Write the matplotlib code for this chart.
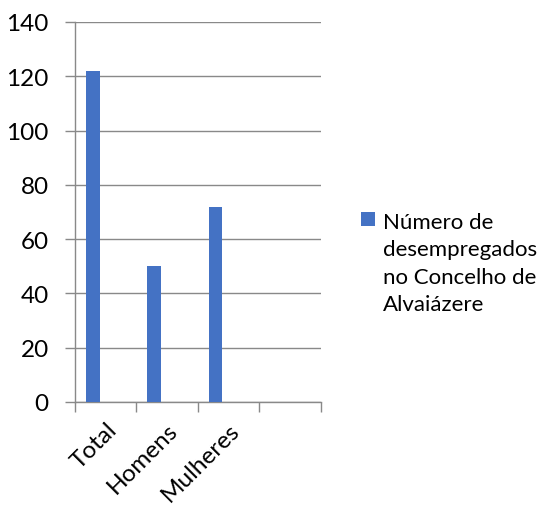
import matplotlib
matplotlib.use("Agg")
import matplotlib.pyplot as plt
import matplotlib.transforms as mtransforms
import numpy as np

categories = ["Total", "Homens", "Mulheres", ""]
values = [122, 50, 72, 0]
series_label = "Número de\ndesempregados\nno Concelho de\nAlvaiázere"

plt.rcParams["font.family"] = ["Lato", "DejaVu Sans"]

fig = plt.figure(figsize=(5.4, 5.06), dpi=100)
ax = fig.add_axes([0.139, 0.2036, 0.455, 0.751])

grid_col = "#898989"
bar_col = "#4472C4"

n = len(categories)
x = np.arange(n)
shown = [v if c else np.nan for c, v in zip(categories, values)]
ax.bar(x + 0.288, shown, width=0.22, color=bar_col, label=series_label, zorder=3)

ax.set_xlim(0, n)
ax.set_ylim(0, 140)
ax.set_yticks(np.arange(0, 141, 20))
ax.yaxis.grid(True, color=grid_col, linewidth=1.0, zorder=0)

# category borders as major ticks, names at the centers
ax.set_xticks(np.arange(n + 1))
ax.set_xticklabels([])
ax.set_xticks(x + 0.5, minor=True)
ax.set_xticklabels(categories, minor=True, rotation=45, ha="right",
                   rotation_mode="anchor", fontsize=17.5)
shift = mtransforms.ScaledTranslation(-9 / 100, 3 / 100, fig.dpi_scale_trans)
for lbl in ax.get_xticklabels(minor=True):
    lbl.set_transform(lbl.get_transform() + shift)
ax.tick_params(axis="x", which="minor", length=0, pad=12)
ax.tick_params(axis="x", which="major", length=7, color=grid_col, width=1.0)
ax.tick_params(axis="y", length=7, color=grid_col, width=1.0, labelsize=17.5, pad=12)

for s in ["top", "right"]:
    ax.spines[s].set_visible(False)
for s in ["left", "bottom"]:
    ax.spines[s].set_color(grid_col)
    ax.spines[s].set_linewidth(1.0)

leg = fig.legend(loc="center left", bbox_to_anchor=(0.652, 0.478), frameon=False,
                 fontsize=16, handlelength=0.62, handleheight=0.62,
                 handletextpad=0.35, borderaxespad=0)
for t in leg.get_texts():
    t.set_linespacing(1.47)
# put the square next to the first line, like the original
for row in leg._legend_handle_box.get_children():
    for entry in row.get_children():
        entry.align = "top"

fig.savefig("out.png", dpi=100)
